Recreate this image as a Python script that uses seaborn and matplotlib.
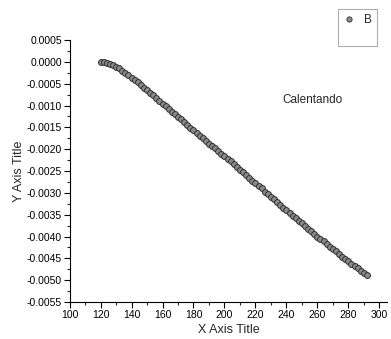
import numpy as np
import pandas as pd
import matplotlib
matplotlib.use('Agg')
import matplotlib.pyplot as plt
from matplotlib.ticker import MultipleLocator, FormatStrFormatter
from matplotlib.lines import Line2D
import seaborn as sns

# temperatura vs deformacion
x_vals = [120, 122, 124, 126, 128, 130, 132, 134, 136, 138,
          140, 142, 144, 146, 148, 150, 152, 154, 156, 158,
          160, 162, 164, 166, 168, 170, 172, 174, 176, 178,
          180, 182, 184, 186, 188, 190, 192, 194, 196, 198,
          200, 202, 204, 206, 208, 210, 212, 214, 216, 218,
          220, 222, 224, 226, 228, 230, 232, 234, 236, 238,
          240, 242, 244, 246, 248, 250, 252, 254, 256, 258,
          260, 262, 264, 266, 268, 270, 272, 274, 276, 278,
          280, 282, 284, 286, 288, 290, 292]
y_vals = [0.00000, -0.00001, -0.00003, -0.00005, -0.00008, -0.00011, -0.00015, -0.00020, -0.00025, -0.00030,
          -0.00036, -0.00041, -0.00047, -0.00053, -0.00059, -0.00065, -0.00071, -0.00077, -0.00083, -0.00089,
          -0.00096, -0.00102, -0.00108, -0.00114, -0.00120, -0.00126, -0.00132, -0.00138, -0.00145, -0.00151,
          -0.00157, -0.00163, -0.00169, -0.00175, -0.00181, -0.00187, -0.00193, -0.00198, -0.00204, -0.00210,
          -0.00216, -0.00222, -0.00228, -0.00235, -0.00241, -0.00247, -0.00253, -0.00260, -0.00266, -0.00272,
          -0.00278, -0.00284, -0.00290, -0.00297, -0.00303, -0.00309, -0.00315, -0.00322, -0.00328, -0.00334,
          -0.00340, -0.00346, -0.00352, -0.00358, -0.00364, -0.00370, -0.00376, -0.00382, -0.00388, -0.00394,
          -0.00400, -0.00405, -0.00411, -0.00417, -0.00423, -0.00428, -0.00434, -0.00440, -0.00446, -0.00451,
          -0.00457, -0.00462, -0.00468, -0.00473, -0.00478, -0.00484, -0.00489]

df = pd.DataFrame({'x': x_vals, 'y': y_vals})

sns.set_style('ticks')
plt.rcParams['font.family'] = ['Liberation Sans', 'DejaVu Sans']

fig = plt.figure(figsize=(3.91, 3.39), dpi=100)
ax = fig.add_axes([0.178, 0.109, 0.812, 0.773])

sns.scatterplot(data=df, x='x', y='y', ax=ax, marker='o', s=18,
                facecolor='#8a8a8a', edgecolor='#303030', linewidth=0.7, legend=False)

ax.set_xlim(100, 305)
ax.set_ylim(-0.0055, 0.0005)
ax.xaxis.set_major_locator(MultipleLocator(20))
ax.xaxis.set_minor_locator(MultipleLocator(10))
ax.yaxis.set_major_locator(MultipleLocator(0.0005))
ax.yaxis.set_minor_locator(MultipleLocator(0.00025))
ax.yaxis.set_major_formatter(FormatStrFormatter('%.4f'))

ax.tick_params(axis='both', which='major', direction='out', length=4, width=0.8,
               labelsize=7.5, pad=1.5, colors='black')
ax.tick_params(axis='both', which='minor', direction='out', length=2.5, width=0.8)
for s in ['left', 'bottom']:
    ax.spines[s].set_color('black')
    ax.spines[s].set_linewidth(0.8)
sns.despine(ax=ax)

ax.set_xlabel('X Axis Title', fontsize=9, labelpad=3)
ax.set_ylabel('Y Axis Title', fontsize=9, labelpad=1)

ax.text(257, -0.00088, 'Calentando', fontsize=8.5, ha='center', va='center')

h1 = Line2D([], [], linestyle='none', marker='o', markersize=3.8,
            markerfacecolor='#8a8a8a', markeredgecolor='#303030', markeredgewidth=0.6)
h2 = Line2D([], [], linestyle='none', marker='none')
leg = fig.legend([h1, h2], ['B', ' '], loc='upper right', bbox_to_anchor=(0.963, 0.972),
                 fontsize=8.5, frameon=True, fancybox=False, edgecolor='#999999',
                 handlelength=1.0, handletextpad=0.8, borderpad=0.4, labelspacing=0.25,
                 borderaxespad=0)
leg.get_frame().set_linewidth(0.8)

fig.savefig('out.png', dpi=100)
